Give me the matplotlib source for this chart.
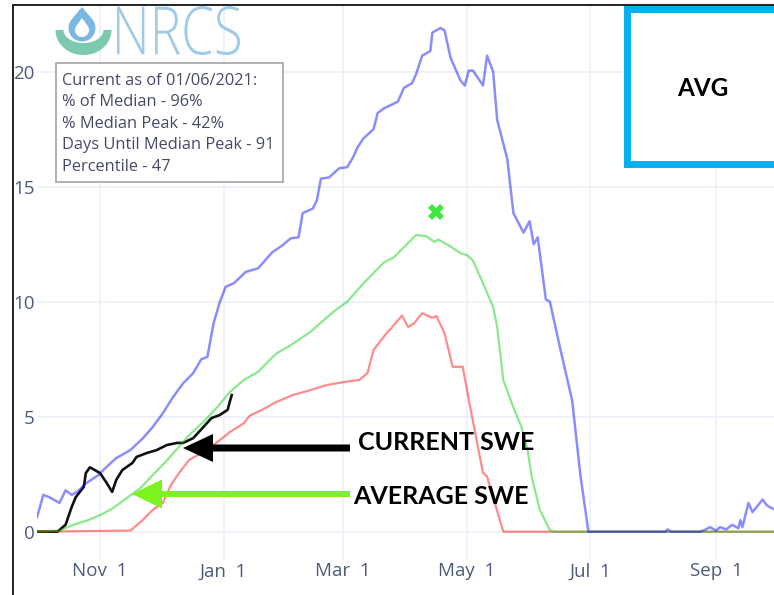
import numpy as np
import matplotlib
matplotlib.use("Agg")
import matplotlib.pyplot as plt
from matplotlib.patches import Rectangle, FancyArrow, Polygon, PathPatch
from matplotlib.textpath import TextPath
from matplotlib.font_manager import FontProperties
from matplotlib.transforms import Affine2D

# day of water year (Oct 1 = 0) and SWE in inches
max_days = [0, 3, 6, 11, 14, 17, 20, 24, 30, 34, 39, 46, 52, 57, 62, 67, 72, 77, 81, 84,
            87, 90, 93, 97, 103, 109, 116, 121, 125, 129, 131, 136, 138, 140, 144, 149, 153,
            156, 158, 161, 166, 168, 171, 178, 181, 185, 187, 190, 194, 195, 199, 201, 204,
            205, 209, 211, 213, 215, 220, 222, 225, 227, 232, 235, 240, 243, 245, 247, 251,
            253, 258, 264, 268, 272, 310, 311, 313, 327, 330, 332, 335, 337, 340, 343, 346,
            347, 348, 351, 353, 358, 360, 363]
max_swe = [0.65, 1.6, 1.5, 1.25, 1.8, 1.6, 1.75, 2.1, 2.45, 2.8, 3.2, 3.55, 4.05, 4.55, 5.15,
           5.85, 6.45, 6.9, 7.5, 7.6, 9.05, 9.95, 10.65, 10.8, 11.3, 11.45, 12.15, 12.45,
           12.75, 12.8, 13.85, 14.05, 14.4, 15.35, 15.4, 15.8, 15.85, 16.3, 16.7, 17.1, 17.5,
           18.2, 18.4, 18.7, 19.3, 19.5, 19.9, 20.7, 20.9, 21.7, 21.9, 21.8, 20.6, 20.4, 19.6,
           19.4, 20.05, 20.05, 19.4, 20.7, 20.0, 17.9, 16.2, 13.85, 13.0, 13.5, 12.5, 12.8,
           10.1, 10.0, 8.0, 5.7, 2.5, 0.0, 0.0, 0.1, 0.0, 0.0, 0.1, 0.2, 0.05, 0.2, 0.1, 0.3,
           0.15, 0.5, 0.2, 1.25, 0.85, 1.4, 1.15, 1.0]

med_days = [0, 11, 18, 25, 31, 37, 44, 51, 57, 64, 69, 75, 82, 89, 95, 102, 109, 118, 125,
            135, 146, 153, 161, 171, 176, 183, 187, 192, 196, 198, 204, 209, 212, 215, 220,
            225, 227, 230, 235, 239, 242, 244, 248, 253, 255, 364]
med_swe = [0.0, 0.05, 0.3, 0.5, 0.72, 1.0, 1.45, 1.9, 2.46, 3.1, 3.6, 4.2, 4.77, 5.43, 6.07,
           6.6, 6.95, 7.75, 8.1, 8.7, 9.55, 10.0, 10.8, 11.7, 11.93, 12.55, 12.9, 12.85, 12.6,
           12.7, 12.4, 12.1, 12.03, 11.8, 10.8, 9.77, 8.9, 6.6, 5.4, 4.55, 3.55, 2.4, 0.96,
           0.07, 0.0, 0.0]

min_days = [0, 46, 52, 57, 62, 66, 70, 75, 82, 89, 95, 102, 105, 111, 118, 126, 135, 143,
            151, 159, 163, 166, 173, 174, 180, 183, 186, 190, 195, 197, 201, 205, 210, 213,
            220, 222, 230, 364]
min_swe = [0.0, 0.05, 0.5, 0.95, 1.25, 2.03, 2.55, 3.12, 3.47, 3.9, 4.33, 4.72, 5.05, 5.3,
           5.64, 5.94, 6.16, 6.38, 6.5, 6.6, 6.9, 7.9, 8.7, 8.77, 9.4, 8.9, 9.06, 9.5, 9.3,
           9.38, 8.63, 7.17, 7.17, 5.73, 2.55, 2.4, 0.0, 0.0]

cur_days = [0, 10, 14, 17, 19, 23, 24, 26, 31, 34, 37, 39, 42, 47, 49, 54, 59, 64, 69, 72,
            77, 82, 86, 90, 94, 95, 96]
cur_swe = [0.0, 0.0, 0.3, 1.07, 1.5, 1.95, 2.55, 2.8, 2.55, 2.16, 1.73, 2.25, 2.68, 2.99,
           3.25, 3.42, 3.55, 3.77, 3.86, 3.86, 4.07, 4.55, 4.94, 5.07, 5.3, 5.64, 5.94]

peak_day = 197
peak_swe = 13.9

tick_days = [31, 92, 151, 212, 273, 335]
tick_labels = ["Nov  1", "Jan  1", "Mar  1", "May  1", "Jul  1", "Sep  1"]
y_ticks = [0, 5, 10, 15, 20]

info_lines = ["Current as of 01/06/2021:", "% of Median - 96%", "% Median Peak - 42%",
              "Days Until Median Peak - 91", "Percentile - 47"]

W, H = 774, 595
fig = plt.figure(figsize=(W / 100, H / 100), dpi=100)
fig.patch.set_facecolor("white")

ax = fig.add_axes([37.2 / W, 35 / H, (W - 37.2) / W, 555 / H])
ax.set_xlim(0, 363.6)
ax.set_ylim(-1.23, 22.9)
for s in ax.spines.values():
    s.set_visible(False)
ax.set_xticks(tick_days)
ax.set_xticklabels(tick_labels)
ax.set_yticks(y_ticks)
ax.tick_params(length=0, labelsize=13.5, labelcolor="#4d5a7a", pad=1.8)
for lab in ax.get_xticklabels() + ax.get_yticklabels():
    lab.set_family("Open Sans")
ax.grid(True, color="#ebf0f8", lw=1.2)
ax.set_axisbelow(True)

ax.plot(cur_days, cur_swe, color="#111111", lw=1.9, zorder=3)
ax.plot(min_days, min_swe, color=(1, 0, 0), alpha=0.45, lw=1.6, zorder=4)
ax.plot(med_days, med_swe, color=(0, 0.8, 0), alpha=0.45, lw=1.6, zorder=5)
ax.plot(max_days, max_swe, color=(0, 0, 1), alpha=0.45, lw=1.8, zorder=6)
ax.plot([peak_day], [peak_swe], marker="X", color="#3fe83f", ms=11, mew=0, zorder=7)

# overlay in pixel coordinates for decorations
ov = fig.add_axes([0, 0, 1, 1], zorder=10)
ov.set_xlim(0, W)
ov.set_ylim(H, 0)
ov.axis("off")

ov.plot([13, 13], [5, H], color="#222222", lw=1.4)
ov.plot([13, W], [5, 5], color="#222222", lw=1.4)


def drop(cx, cy, r, tip):
    g = np.arccos(r / (cy - tip))
    a = np.linspace(np.pi / 2 + g, 2.5 * np.pi - g, 80)
    return [(cx, tip)] + [(cx + r * np.cos(v), cy - r * np.sin(v)) for v in a]


# logo
ov.add_patch(Polygon(drop(82, 28, 13.5, 7), closed=True, fc="#7ab8e3", ec="none"))
ov.add_patch(Polygon(drop(82, 30, 7, 18), closed=True, fc="white", ec="none"))
th = np.linspace(0, np.pi, 60)
outer = [(83.5 + 28 * np.cos(v), 30 + 25 * np.sin(v)) for v in th]
inner = [(83.5 + 20 * np.cos(v), 30 + 13 * np.sin(v)) for v in th[::-1]]
ov.add_patch(Polygon(outer + inner, closed=True, fc="#7cc9b0", ec="none"))

tp = TextPath((0, 0), "NRCS", size=100, prop=FontProperties(family="Open Sans", weight="light"))
ext = tp.get_extents()
tr = Affine2D().translate(-ext.x0, -ext.y0).scale(123 / ext.width, -49 / ext.height).translate(117, 55)
ov.add_patch(PathPatch(tr.transform_path(tp), fc="#9dcbe9", ec="none"))

# info box
ov.add_patch(Rectangle((56, 63), 227, 119, fc="white", ec="#aaaaaa", lw=1.3))
for i, line in enumerate(info_lines):
    ov.text(62, 81 + i * 21.4, line, fontsize=11.8, family="Open Sans", color="#474a66",
            va="center", ha="left")

# AVG box
ov.add_patch(Rectangle((626.5, 8.5), 200, 155, fc="white", ec="#00b0f0", lw=5.0))
ov.text(703, 88, "AVG", fontsize=17.5, family="Lato", weight="bold", color="black",
        ha="center", va="center")

# arrows with labels
ov.add_patch(FancyArrow(350, 448, -(350 - 183), 0, width=7, head_width=28, head_length=30,
                        length_includes_head=True, color="black", lw=0))
ov.add_patch(FancyArrow(350, 494, -(350 - 132), 0, width=6, head_width=29, head_length=30,
                        length_includes_head=True, color="#7cf21e", lw=0))
ov.text(358, 443, "CURRENT SWE", fontsize=18, family="Lato", weight="bold", color="black",
        ha="left", va="center")
ov.text(353, 497, "AVERAGE SWE", fontsize=18, family="Lato", weight="bold", color="black",
        ha="left", va="center")

fig.savefig("out.png", dpi=100, facecolor="white")
